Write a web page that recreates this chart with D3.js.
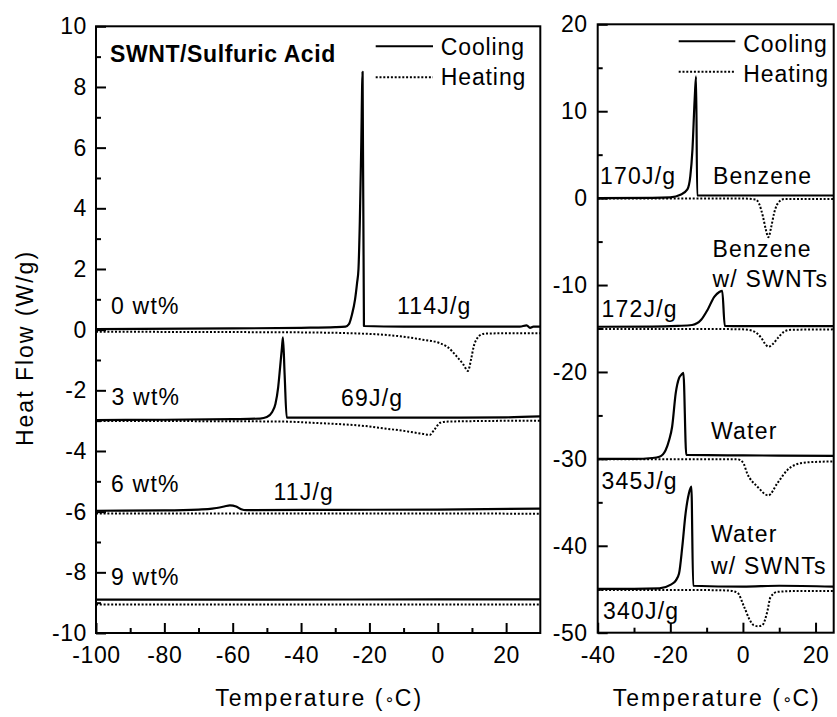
<!DOCTYPE html>
<html><head><meta charset="utf-8">
<script src="https://cdn.jsdelivr.net/npm/d3@7"></script>
<style>
body{margin:0;background:#fff}
svg text{font-family:"Liberation Sans",Arial,Helvetica,sans-serif;fill:#000}
</style></head><body>
<svg id="c" width="837" height="717"></svg>
<script>
// ---------------- DATA ----------------
// Left panel: SWNT / sulfuric acid, [temperature °C, heat flow W/g]
const acid0Cooling = [[-100,0.02],[-60,0.04],[-40,0.06],[-30,0.08],[-27,0.1],[-26,0.18],[-25.1,0.5],[-24.2,1.0],[-23.6,1.55],[-23.2,2.0],[-22.8,3.6],[-22.4,6.0],[-22.0,8.5],[-21.6,0.12],[-10,0.1],[10,0.1],[24,0.1],[26,0.14],[27,0.06],[28,0.1],[30,0.1]];
const acid0Heating = [[-100,-0.07],[-60,-0.08],[-40,-0.09],[-25,-0.12],[-17,-0.16],[-11,-0.22],[-5,-0.32],[0.7,-0.45],[2.7,-0.56],[5.6,-0.89],[7.5,-1.15],[8.8,-1.36],[9.8,-0.95],[10.5,-0.56],[11.5,-0.29],[12.4,-0.18],[14,-0.13],[20,-0.12],[30,-0.12]];
const acid3Cooling = [[-100,-2.98],[-80,-2.97],[-60,-2.95],[-52,-2.93],[-50,-2.88],[-48.5,-2.72],[-47.5,-2.45],[-46.7,-1.9],[-46.1,-1.2],[-45.6,-0.6],[-45.3,-0.25],[-44.8,-1.5],[-44.2,-2.9],[-30,-2.9],[0,-2.9],[20,-2.89],[30,-2.86]];
const acid3Heating = [[-100,-3.01],[-60,-3.02],[-45,-3.03],[-35,-3.08],[-28,-3.12],[-21,-3.18],[-16,-3.25],[-8,-3.37],[-4.2,-3.44],[-2.4,-3.47],[-1,-3.3],[0.7,-3.07],[3,-3.03],[15,-3.01],[30,-3.0]];
const acid6Cooling = [[-100,-5.97],[-80,-5.96],[-70,-5.93],[-66,-5.9],[-62.5,-5.83],[-60.8,-5.79],[-59,-5.83],[-57.5,-5.92],[-56,-5.95],[-30,-5.94],[0,-5.93],[30,-5.9]];
const acid6Heating = [[-100,-6.06],[-50,-6.06],[0,-6.06],[30,-6.07]];
const acid9Cooling = [[-100,-8.9],[-50,-8.9],[0,-8.89],[30,-8.89]];
const acid9Heating = [[-100,-9.06],[-50,-9.06],[0,-9.06],[30,-9.06]];

// Right panel: benzene / water, [temperature °C, heat flow W/g]
const benzCooling = [[-40,0],[-25,0.02],[-20,0.08],[-17.2,0.38],[-15.3,1.0],[-14.5,2.5],[-13.9,5.6],[-13.3,11.3],[-12.9,14.0],[-12.6,0.3],[0,0.3],[25,0.3]];
const benzHeating = [[-40,-0.05],[0,-0.05],[3.5,-0.15],[4.5,-0.7],[5.5,-2.1],[6.3,-3.6],[7,-4.5],[7.8,-3.3],[8.6,-1.7],[10,-0.4],[11.4,-0.1],[25,-0.1]];
const benzSwntCooling = [[-40,-14.8],[-25,-14.78],[-18,-14.7],[-14,-14.6],[-11.5,-14.0],[-9.8,-12.9],[-7.9,-11.35],[-6.5,-10.8],[-5.7,-10.67],[-5.0,-14.7],[0,-14.72],[25,-14.72]];
const benzSwntHeating = [[-40,-15.05],[-10,-15.05],[0,-15.1],[2.5,-15.25],[4,-15.6],[5.1,-16.1],[6,-16.7],[7,-17.1],[8.2,-16.8],[9.6,-16.1],[11.4,-15.35],[13.2,-15.15],[25,-15.1]];
const waterCooling = [[-40,-30.0],[-30,-30.0],[-25,-29.9],[-23,-29.75],[-21.3,-29.0],[-20.3,-27.8],[-19.5,-26.3],[-18.5,-22.4],[-17.6,-20.7],[-16.9,-20.3],[-16.4,-20.1],[-15.6,-29.55],[0,-29.6],[25,-29.65]];
const waterHeating = [[-40,-30.05],[-10,-30.05],[-1.5,-30.05],[0,-30.4],[1.2,-31.7],[4,-33.2],[7,-34.2],[9.5,-32.8],[12.2,-31.3],[15.9,-30.5],[20,-30.35],[25,-30.3]];
const waterSwntCooling = [[-40,-44.95],[-30,-44.95],[-23,-44.9],[-20,-44.5],[-18.5,-44.0],[-17.6,-43.2],[-16.7,-40.1],[-15.8,-36.3],[-14.9,-34.0],[-14.2,-33.2],[-13.7,-44.6],[0,-44.7],[10,-44.6],[25,-44.7]];
const waterSwntHeating = [[-40,-45.1],[-10,-45.1],[-4,-45.15],[-1.5,-45.4],[0.3,-47.0],[2.1,-48.7],[3,-49.15],[4.2,-49.25],[5.3,-49.15],[6.7,-47.6],[7.6,-45.9],[9.5,-45.3],[15,-45.2],[25,-45.2]];

// Ticks
const leftXTicks = [-100,-80,-60,-40,-20,0,20];
const leftXMinor = [-90,-70,-50,-30,-10,10];
const leftYTicks = [-10,-8,-6,-4,-2,0,2,4,6,8,10];
const leftYMinor = [-9,-7,-5,-3,-1,1,3,5,7,9];
const rightXTicks = [-40,-20,0,20];
const rightXMinor = [-30,-10,10];
const rightYTicks = [-50,-40,-30,-20,-10,0,10,20];
const rightYMinor = [-45,-35,-25,-15,-5,5,15];

// Texts
const legendNames = ["Cooling","Heating"];
const xTitle = "Temperature (";
const yTitle = "Heat Flow (W/g)";
const leftTitle = "SWNT/Sulfuric Acid";
const leftLabels = ["0 wt%","114J/g","3 wt%","69J/g","6 wt%","11J/g","9 wt%"];
const rightLabels = ["170J/g","Benzene","Benzene","w/ SWNTs","172J/g","Water","345J/g","Water","w/ SWNTs","340J/g"];

// ---------------- LAYOUT ----------------
const leftLabelPos = [[111,313.5],[397,313.5],[111.5,405],[341,405.5],[111,491.5],[273.5,500],[111,585]];
const rightLabelPos = [[600,183.5],[713,183.5],[712.5,256.5],[712.5,286.5],[601.5,316.5],[711,439],[601.5,488.5],[711,541.5],[711,573.5],[603,618.5]];

const svg = d3.select('#c');
const FONT = '"Liberation Sans",Arial,Helvetica,sans-serif';

function panel(cfg){
  const x = d3.scaleLinear().domain(cfg.xDomain).range([cfg.x0,cfg.x1]);
  const y = d3.scaleLinear().domain(cfg.yDomain).range([cfg.y1,cfg.y0]);
  const g = svg.append('g');
  const line = d3.line().x(d=>x(d[0])).y(d=>y(d[1])).curve(d3.curveMonotoneX);
  cfg.series.forEach(s=>{
    g.append('path').attr('d',line(s.data)).attr('fill','none')
     .attr('stroke','#000').attr('stroke-width',s.heating?2:2.2)
     .attr('stroke-linejoin','round')
     .attr('stroke-dasharray',s.heating?'2,1.8':null);
  });
  function styleAxis(sel){
    sel.select('.domain').remove();
    sel.attr('font-size',23).attr('font-family',FONT);
    sel.selectAll('line').attr('stroke','#000').attr('stroke-width',2);
    sel.selectAll('text').attr('fill','#000').style('letter-spacing','0.6px');
  }
  const fmt = d=>String(d);
  svg.append('g').attr('transform',`translate(0,${cfg.y1})`)
    .call(d3.axisBottom(x).tickValues(cfg.xTicks).tickSize(-10).tickSizeOuter(0).tickPadding(14).tickFormat(fmt))
    .call(styleAxis);
  svg.append('g').attr('transform',`translate(0,${cfg.y1})`)
    .call(d3.axisBottom(x).tickValues(cfg.xMinor).tickSize(-5).tickSizeOuter(0).tickFormat(''))
    .call(styleAxis);
  svg.append('g').attr('transform',`translate(${cfg.x0},0)`)
    .call(d3.axisLeft(y).tickValues(cfg.yTicks).tickSize(-10).tickSizeOuter(0).tickPadding(cfg.yPad).tickFormat(fmt))
    .call(styleAxis);
  svg.append('g').attr('transform',`translate(${cfg.x0},0)`)
    .call(d3.axisLeft(y).tickValues(cfg.yMinor).tickSize(-5).tickSizeOuter(0).tickFormat(''))
    .call(styleAxis);
  svg.append('rect').attr('x',cfg.x0).attr('y',cfg.y0).attr('width',cfg.x1-cfg.x0).attr('height',cfg.y1-cfg.y0)
    .attr('fill','none').attr('stroke','#000').attr('stroke-width',2);
  const L = cfg.legend;
  legendNames.forEach((n,i)=>{
    const ly = L.y[i];
    svg.append('line').attr('x1',L.x0).attr('x2',L.x1).attr('y1',ly).attr('y2',ly)
      .attr('stroke','#000').attr('stroke-width',2).attr('stroke-dasharray',i?'2,1.8':null);
    svg.append('text').attr('x',L.tx).attr('y',L.ty[i]).attr('font-size',23)
      .style('letter-spacing','0.9px').text(n);
  });
  const t = svg.append('text').attr('x',(cfg.x0+cfg.x1)/2+1).attr('y',705.5).attr('text-anchor','middle')
    .attr('font-size',23).style('letter-spacing','2px');
  t.append('tspan').text(xTitle);
  t.append('tspan').attr('font-family','"DejaVu Sans",sans-serif').attr('font-size',16).attr('dy',-1)
    .style('letter-spacing','0.5px').text('\u2218');
  t.append('tspan').attr('dy',1).text('C)');
  cfg.labels.forEach((s,i)=>{
    svg.append('text').attr('x',cfg.labelPos[i][0]).attr('y',cfg.labelPos[i][1])
      .attr('font-size',23).style('letter-spacing','1.2px').text(s);
  });
  return {x,y};
}

panel({
  xDomain:[-100,30], yDomain:[-10,10], x0:96, x1:540.3, y0:26.3, y1:633,
  xTicks:leftXTicks, xMinor:leftXMinor, yTicks:leftYTicks, yMinor:leftYMinor, yPad:9,
  series:[
    {data:acid0Cooling},{data:acid0Heating,heating:true},
    {data:acid3Cooling},{data:acid3Heating,heating:true},
    {data:acid6Cooling},{data:acid6Heating,heating:true},
    {data:acid9Cooling},{data:acid9Heating,heating:true}
  ],
  legend:{x0:375.7,x1:433,y:[46.3,77.3],tx:440.7,ty:[55,85]},
  labels:leftLabels, labelPos:leftLabelPos
});
panel({
  xDomain:[-40,25], yDomain:[-50,20], x0:597.7, x1:833.7, y0:24.3, y1:632.7,
  xTicks:rightXTicks, xMinor:rightXMinor, yTicks:rightYTicks, yMinor:rightYMinor, yPad:10,
  series:[
    {data:benzCooling},{data:benzHeating,heating:true},
    {data:benzSwntCooling},{data:benzSwntHeating,heating:true},
    {data:waterCooling},{data:waterHeating,heating:true},
    {data:waterSwntCooling},{data:waterSwntHeating,heating:true}
  ],
  legend:{x0:678.7,x1:735.3,y:[41.3,71.7],tx:743.3,ty:[51.7,81.7]},
  labels:rightLabels, labelPos:rightLabelPos
});

svg.append('text').attr('x',110).attr('y',61.7).attr('font-size',23).attr('font-weight','bold')
  .style('letter-spacing','0.6px').text(leftTitle);
svg.append('text').attr('transform','translate(33.3,348) rotate(-90)').attr('text-anchor','middle')
  .attr('font-size',23).style('letter-spacing','2px').text(yTitle);
</script>
</body></html>
